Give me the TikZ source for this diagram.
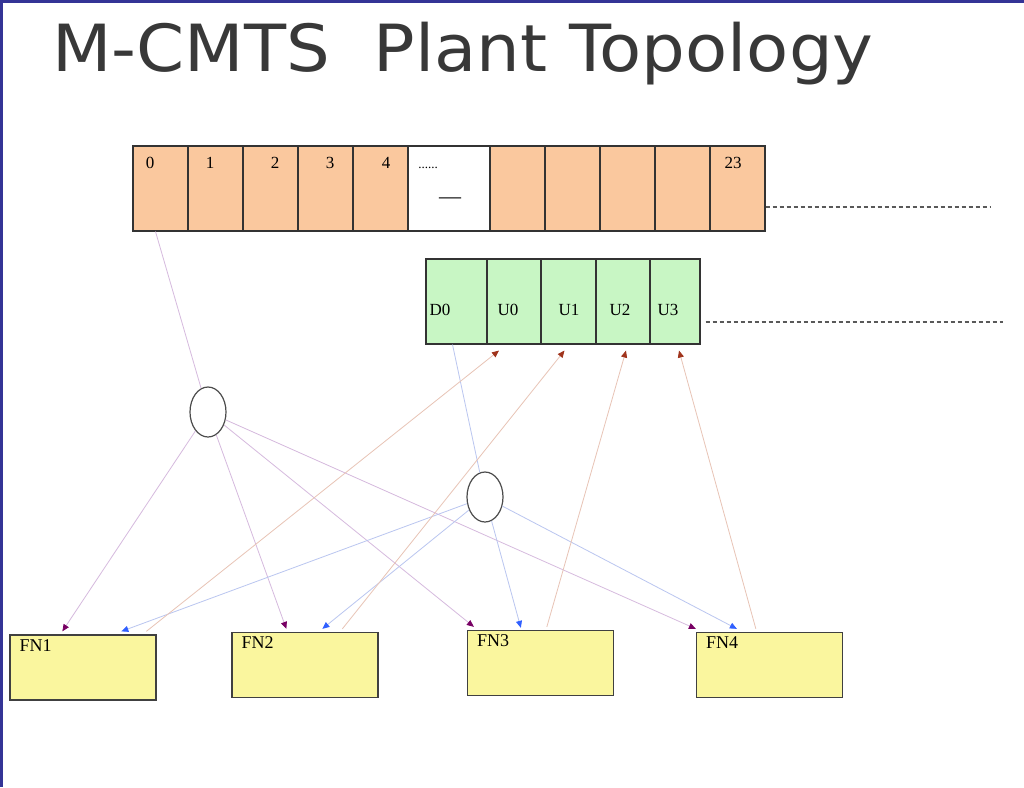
\documentclass[tikz,border=0pt]{standalone}
\usepackage{fontspec}
\setmainfont{Liberation Serif}
\newfontfamily\titlefont{DejaVu Sans}
\usepackage{tikz}
\usetikzlibrary{shapes.geometric,arrows.meta,positioning}

\definecolor{cellorange}{RGB}{250,200,158}
\definecolor{cellgreen}{RGB}{200,246,196}
\definecolor{fnyellow}{RGB}{250,246,158}
\definecolor{frameblue}{RGB}{52,52,150}
\definecolor{dnline}{RGB}{214,186,222}
\definecolor{dnhead}{RGB}{120,0,100}
\definecolor{blline}{RGB}{186,198,240}
\definecolor{blhead}{RGB}{48,96,255}
\definecolor{upline}{RGB}{232,196,182}
\definecolor{uphead}{RGB}{160,52,28}

\begin{document}
\begin{tikzpicture}[x=1pt,y=-1pt,
  ocell/.style={draw=black!80,line width=1.1pt,fill=cellorange,minimum width=55pt,minimum height=85pt,inner sep=0pt},
  gcell/.style={draw=black!80,line width=1.1pt,fill=cellgreen,minimum height=85pt,inner sep=0pt},
  fnbox/.style={draw=black!75,line width=1.3pt,fill=fnyellow,minimum width=146pt,minimum height=65pt,inner sep=0pt},
  hub/.style={ellipse,draw=black!70,line width=1.2pt,fill=white,minimum width=36pt,minimum height=50pt,inner sep=0pt},
  lbl/.style={font=\fontsize{17}{20}\selectfont,inner sep=0pt},
  fnlbl/.style={font=\fontsize{18}{20}\selectfont,inner sep=0pt,anchor=north west},
  trail/.style={draw=black!65,line width=1.2pt,dash pattern=on 4pt off 3pt},
  dn/.style={draw=dnline,line width=0.8pt,-{Triangle[length=7pt,width=6pt,color=dnhead]}},
  bl/.style={draw=blline,line width=0.8pt,-{Triangle[length=7pt,width=6pt,color=blhead]}},
  up/.style={draw=upline,line width=0.8pt,-{Triangle[length=7pt,width=6pt,color=uphead]}}
]
\useasboundingbox (0,0) rectangle (1024,787);
\fill[white] (0,0) rectangle (1024,787);
\fill[frameblue] (0,0) rectangle (1024,3);
\fill[frameblue] (0,0) rectangle (3,787);

% title
\node[anchor=base west,inner sep=0pt,text=black!78,font=\titlefont\fontsize{65}{70}\selectfont] (title) at (52,71) {\scalebox{1.06}[1]{M-CMTS\ \ Plant Topology}};

% fibre channels
\node[ocell] (c0) at (160.5,188.5) {};
\node[ocell] (c1) at (215.5,188.5) {};
\node[ocell] (c2) at (270.5,188.5) {};
\node[ocell] (c3) at (325.5,188.5) {};
\node[ocell] (c4) at (380.5,188.5) {};
\node[ocell,fill=white,minimum width=82pt] (cw) at (449,188.5) {};
\node[ocell] (c6) at (517.5,188.5) {};
\node[ocell] (c7) at (572.5,188.5) {};
\node[ocell] (c8) at (627.5,188.5) {};
\node[ocell] (c9) at (682.5,188.5) {};
\node[ocell] (c23) at (737.5,188.5) {};
\node[lbl] (n0) at (150,163) {0};
\node[lbl] (n1) at (210,163) {1};
\node[lbl] (n2) at (275,163) {2};
\node[lbl] (n3) at (330,163) {3};
\node[lbl] (n4) at (386,163) {4};
\node[lbl,font=\fontsize{13}{14}\selectfont] (ndots) at (428,168) {......};
\node[lbl,font=\fontsize{22}{24}\selectfont] (ndash) at (450,201) {—};
\node[lbl] (n23) at (733,163) {23};
\coordinate (tr) at (990,207);
\draw[trail] (c23.east |- tr) -- (tr);

% D/U channels
\node[gcell,minimum width=61pt] (d0) at (456.5,301.5) {};
\node[gcell,minimum width=54pt] (u0) at (514,301.5) {};
\node[gcell,minimum width=55pt] (u1) at (568.5,301.5) {};
\node[gcell,minimum width=54pt] (u2) at (623,301.5) {};
\node[gcell,minimum width=50pt] (u3) at (675,301.5) {};
\node[lbl] (md0) at (440,310) {D0};
\node[lbl] (mu0) at (508,310) {U0};
\node[lbl] (mu1) at (569,310) {U1};
\node[lbl] (mu2) at (620,310) {U2};
\node[lbl] (mu3) at (668,310) {U3};
\coordinate (gr) at (1003,322);
\draw[trail] ([xshift=5pt]u3.east |- gr) -- (gr);

% combiners
\node[hub] (h1) at (208,412) {};
\node[hub] (h2) at (485,497) {};

% fiber nodes
\node[fnbox] (f1) at (83,667.5) {};
\node[fnbox] (f2) at (305,665) {};
\node[fnbox] (f3) at (540.5,663) {};
\node[fnbox] (f4) at (769.5,665) {};
\node[fnlbl] (t1) at ([shift={(10,5)}]f1.north west) {FN1};
\node[fnlbl] (t2) at ([shift={(10,5)}]f2.north west) {FN2};
\node[fnlbl] (t3) at ([shift={(10,5)}]f3.north west) {FN3};
\node[fnlbl] (t4) at ([shift={(10,5)}]f4.north west) {FN4};

% downstream
\draw[draw=dnline,line width=0.8pt] ([xshift=-5pt]c0.south) -- (h1);
\draw[dn] (h1) -- ([shift={(53,-3)}]f1.north west);
\draw[dn] (h1) -- ([shift={(55,-3)}]f2.north west);
\draw[dn] (h1) -- ([shift={(7,-3)}]f3.north west);
\draw[dn] (h1) -- ([shift={(0,-3)}]f4.north west);
\draw[draw=blline,line width=0.8pt] ([xshift=-4pt]d0.south) -- (h2);
\draw[bl] (h2) -- ([shift={(112,-3)}]f1.north west);
\draw[bl] (h2) -- ([shift={(91,-3)}]f2.north west);
\draw[bl] (h2) -- ([shift={(54,-2)}]f3.north west);
\draw[bl] (h2) -- ([shift={(41,-3)}]f4.north west);

% upstream
\draw[up] ([shift={(137,-3)}]f1.north west) -- ([shift={(-15,6)}]u0.south);
\draw[up] ([shift={(111,-3)}]f2.north west) -- ([shift={(-4,6)}]u1.south);
\draw[up] ([shift={(80,-3)}]f3.north west) -- ([shift={(3,6)}]u2.south);
\draw[up] ([shift={(60,-3)}]f4.north west) -- ([shift={(4,6)}]u3.south);
\end{tikzpicture}
\end{document}
